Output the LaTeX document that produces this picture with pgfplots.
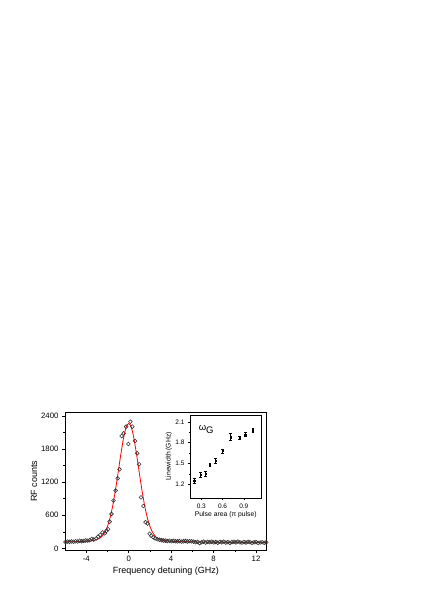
\documentclass[border=0pt]{standalone}
\usepackage{pgfplots}
\pgfplotsset{compat=1.18}
\usepackage{fontspec}
\setmainfont{Liberation Sans}
\begin{document}
\begin{tikzpicture}
\path[use as bounding box] (0pt,0pt) rectangle (422pt,597pt);
% main spectrum
\begin{axis}[
  at={(65pt,47pt)}, anchor=south west,
  scale only axis, width=201.7pt, height=137.3pt,
  xmin=-6, xmax=13, ymin=-30, ymax=2460,
  xtick={-4,0,4,8,12}, ytick={0,600,1200,1800,2400},
  minor x tick num=1, minor y tick num=1,
  tick align=outside, tick pos=left,
  major tick length=3pt, minor tick length=1.6pt,
  axis line style={line width=0.6pt},
  every tick/.style={black, line width=0.5pt},
  tick label style={font=\fontsize{7.8}{8}\selectfont},
  label style={font=\fontsize{9}{10}\selectfont},
  xlabel={Frequency detuning (GHz)}, ylabel={RF counts},
  ylabel style={yshift=-3pt}, xlabel style={yshift=1.5pt},
  /pgf/number format/assume math mode=true,
  /pgf/number format/1000 sep={},
  scaled y ticks=false,
]
\addplot[only marks, mark=o, mark size=1.9pt, black!80, mark options={line width=0.6pt}] coordinates {
(-5.95,115) (-5.76,122) (-5.57,118) (-5.38,125) (-5.19,120) (-5.00,128)
(-4.81,124) (-4.62,137) (-4.43,130) (-4.24,135) (-4.05,142) (-3.86,140)
(-3.67,148) (-3.48,170) (-3.29,160) (-3.06,181) (-2.88,212) (-2.69,242)
(-2.47,290) (-2.25,272) (-2.08,320) (-1.94,345) (-1.80,484) (-1.62,623)
(-1.43,865) (-1.23,1046) (-1.04,1270) (-0.86,1433) (-0.66,2037) (-0.47,2086)
(-0.24,2207) (-0.03,1892) (0.16,2297) (0.34,2207) (0.60,1947) (0.80,1723)
(0.98,1524) (1.16,925) (1.38,768) (1.59,475) (1.78,450) (1.97,265)
(2.13,228) (2.31,200) (2.50,180) (2.70,165) (2.90,155) (3.10,150)
(3.28,142) (3.45,140) (3.64,132) (3.83,138) (4.02,128) (4.21,135)
(4.40,130) (4.59,126) (4.78,131) (4.97,122) (5.16,128) (5.35,133)
(5.54,125) (5.73,131) (5.92,127) (6.11,120) (6.30,112) (6.49,118)
(6.68,95) (6.87,110) (7.06,122) (7.25,105) (7.44,118) (7.63,112)
(7.82,120) (8.01,108) (8.20,115) (8.39,102) (8.58,118) (8.77,110)
(8.96,121) (9.15,105) (9.34,112) (9.53,100) (9.72,114) (9.91,119)
(10.10,108) (10.29,122) (10.48,110) (10.67,104) (10.86,116) (11.05,107)
(11.24,118) (11.43,112) (11.62,100) (11.81,109) (12.00,113) (12.19,98)
(12.38,106) (12.57,111) (12.76,101) (12.95,108)
};
\addplot[red, line width=0.8pt, smooth, tension=0.4] coordinates {
(-6,117) (-5,121) (-4,128) (-3.5,136) (-3,157) (-2.75,180) (-2.5,221)
(-2.25,290) (-2,398) (-1.75,558) (-1.5,776) (-1.25,1052) (-1,1369)
(-0.75,1695) (-0.5,1985) (-0.375,2101) (-0.25,2189) (-0.125,2244) (0,2263)
(0.125,2244) (0.25,2189) (0.375,2101) (0.5,1985) (0.75,1695) (1,1369)
(1.25,1052) (1.5,776) (1.75,558) (2,398) (2.25,290) (2.5,221) (2.75,180)
(3,157) (3.5,136) (4,128) (5,121) (6,117) (8,113) (10,111) (13,110)
};
\end{axis}
% inset
\begin{axis}[
  at={(190pt,99pt)}, anchor=south west,
  scale only axis, width=71.5pt, height=83pt,
  axis background/.style={fill=white},
  xmin=0.14, xmax=1.15, ymin=1.0, ymax=2.2,
  xtick={0.3,0.6,0.9}, ytick={1.2,1.5,1.8,2.1},
  minor x tick num=1, minor y tick num=1,
  tick align=outside, tick pos=left,
  major tick length=2pt, minor tick length=1.2pt,
  axis line style={line width=0.5pt},
  every tick/.style={black, line width=0.4pt},
  tick label style={font=\fontsize{6.5}{7}\selectfont},
  label style={font=\fontsize{6.8}{7}\selectfont},
  xlabel={Pulse area (π pulse)}, ylabel={Linewidth (GHz)},
  xlabel style={yshift=3pt}, ylabel style={yshift=-3.5pt},
  /pgf/number format/assume math mode=true,
  /pgf/number format/.cd, fixed, fixed zerofill, precision=1,
]
\addplot[only marks, mark=square*, mark size=0.65pt, black,
  error bars/.cd, y dir=both, y explicit,
  error bar style={line width=0.4pt},
  error mark options={rotate=90, mark size=1.3pt, line width=0.4pt}] coordinates {
(0.20,1.25) +- (0,0.04)
(0.29,1.34) +- (0,0.035)
(0.36,1.35) +- (0,0.04)
(0.42,1.48) +- (0,0.02)
(0.50,1.54) +- (0,0.03)
(0.60,1.68) +- (0,0.03)
(0.71,1.88) +- (0,0.05)
(0.84,1.87) +- (0,0.02)
(0.92,1.92) +- (0,0.025)
(1.03,1.98) +- (0,0.025)
};
\node[anchor=west, font=\fontsize{9.5}{10}\selectfont, inner sep=0pt] at (rel axis cs:0.12,0.83) {ω\raisebox{-0.3em}{G}};
\end{axis}
\end{tikzpicture}
\end{document}
